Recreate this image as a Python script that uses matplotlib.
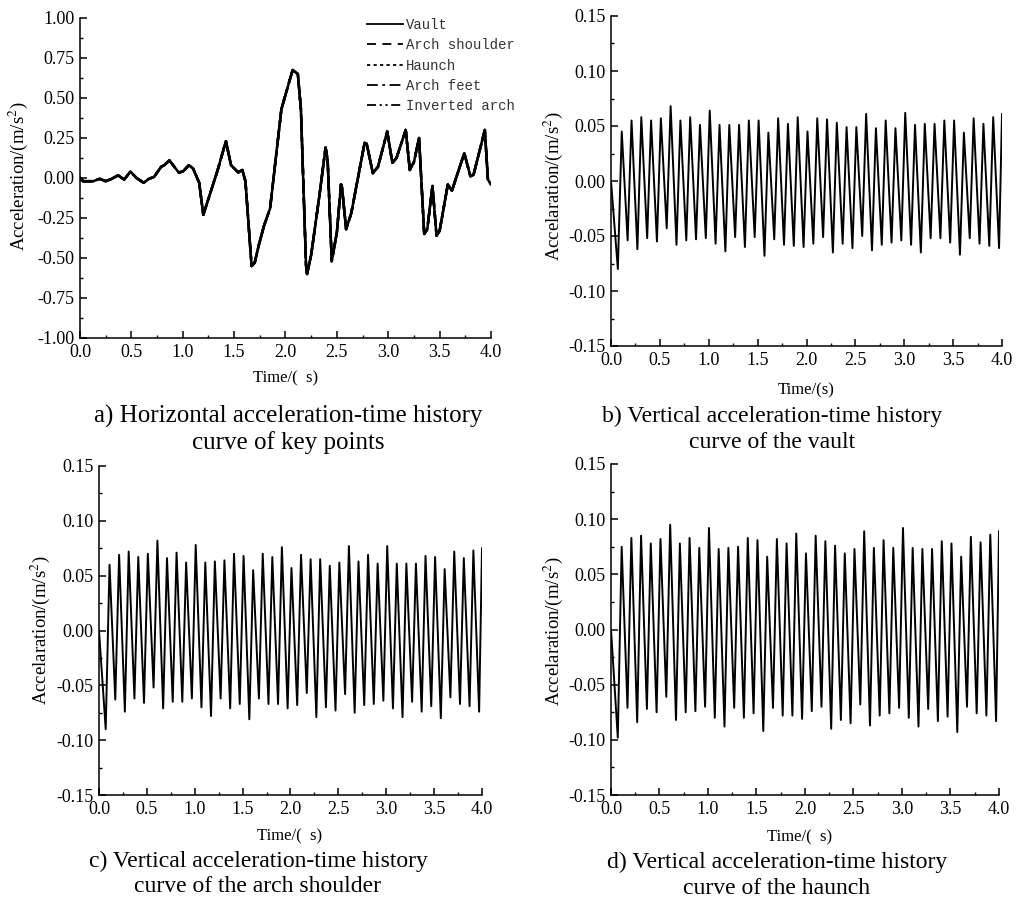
import numpy as np
import matplotlib
matplotlib.use("Agg")
import matplotlib.pyplot as plt
from matplotlib.ticker import MultipleLocator, FormatStrFormatter

plt.rcParams['font.family'] = 'serif'
plt.rcParams['font.serif'] = ['Liberation Serif', 'DejaVu Serif']
plt.rcParams['mathtext.fontset'] = 'stix'
plt.rcParams['axes.unicode_minus'] = False

# horizontal acceleration at the key points (all five curves coincide)
horiz_t = [0.00, 0.03, 0.13, 0.19, 0.25, 0.31, 0.37, 0.43, 0.49, 0.55, 0.62, 0.67,
           0.72, 0.79, 0.82, 0.87, 0.96, 1.00, 1.06, 1.10, 1.16, 1.20, 1.26, 1.34,
           1.42, 1.47, 1.54, 1.58, 1.61, 1.67, 1.70, 1.74, 1.79, 1.85, 1.96, 2.04,
           2.07, 2.12, 2.15, 2.20, 2.21, 2.25, 2.33, 2.39, 2.41, 2.45, 2.50, 2.54,
           2.55, 2.59, 2.64, 2.77, 2.79, 2.85, 2.90, 2.99, 3.04, 3.08, 3.17, 3.21,
           3.25, 3.30, 3.35, 3.38, 3.43, 3.47, 3.50, 3.58, 3.62, 3.66, 3.74, 3.80,
           3.83, 3.94, 3.97, 4.00]
horiz_acc = [0.00, -0.02, -0.02, -0.005, -0.02, -0.005, 0.017, -0.01, 0.04, 0.00, -0.03, -0.005,
             0.006, 0.07, 0.08, 0.11, 0.035, 0.04, 0.08, 0.06, -0.03, -0.23, -0.11, 0.05,
             0.23, 0.08, 0.035, 0.05, -0.02, -0.55, -0.53, -0.42, -0.30, -0.19, 0.43, 0.61,
             0.675, 0.65, 0.43, -0.55, -0.60, -0.48, -0.11, 0.19, 0.115, -0.52, -0.34, -0.04,
             -0.06, -0.32, -0.22, 0.22, 0.215, 0.03, 0.07, 0.29, 0.095, 0.125, 0.30, 0.05,
             0.10, 0.25, -0.35, -0.32, -0.05, -0.36, -0.33, -0.04, -0.08, 0.00, 0.155, 0.01,
             0.02, 0.30, -0.01, -0.04]
key_points = ['Vault', 'Arch shoulder', 'Haunch', 'Arch feet', 'Inverted arch']
key_styles = ['-', (0, (5, 3.5)), (0, (1.8, 1.8)), (0, (6, 2.5, 1.5, 2.5)),
              (0, (5, 2, 1.2, 2, 1.2, 2))]

# vertical acceleration: start, trough/peak pairs, last trough, end
t_vert = [0.00,
          0.07, 0.11, 0.17, 0.21, 0.27, 0.31, 0.37, 0.41, 0.47, 0.51,
          0.57, 0.61, 0.67, 0.71, 0.77, 0.81, 0.87, 0.91, 0.97, 1.01,
          1.07, 1.11, 1.17, 1.21, 1.27, 1.31, 1.37, 1.41, 1.47, 1.51,
          1.57, 1.61, 1.67, 1.71, 1.77, 1.81, 1.87, 1.91, 1.97, 2.01,
          2.07, 2.11, 2.17, 2.21, 2.27, 2.31, 2.37, 2.41, 2.47, 2.51,
          2.57, 2.61, 2.67, 2.71, 2.77, 2.81, 2.87, 2.91, 2.97, 3.01,
          3.07, 3.11, 3.17, 3.21, 3.27, 3.31, 3.37, 3.41, 3.47, 3.51,
          3.57, 3.61, 3.67, 3.71, 3.77, 3.81, 3.87, 3.91,
          3.97, 4.00]

vault_acc = [0.000,
             -0.080, 0.045, -0.054, 0.055, -0.062, 0.058, -0.052, 0.055, -0.055, 0.057,
             -0.043, 0.068, -0.058, 0.055, -0.054, 0.058, -0.053, 0.051, -0.052, 0.064,
             -0.057, 0.051, -0.064, 0.051, -0.051, 0.051, -0.060, 0.055, -0.051, 0.055,
             -0.068, 0.044, -0.053, 0.057, -0.058, 0.052, -0.059, 0.058, -0.060, 0.045,
             -0.057, 0.057, -0.051, 0.056, -0.065, 0.053, -0.057, 0.049, -0.061, 0.049,
             -0.050, 0.061, -0.063, 0.048, -0.058, 0.055, -0.056, 0.048, -0.054, 0.062,
             -0.058, 0.051, -0.065, 0.052, -0.052, 0.052, -0.052, 0.055, -0.056, 0.055,
             -0.067, 0.044, -0.052, 0.057, -0.057, 0.052, -0.059, 0.058,
             -0.061, 0.061]

shoulder_acc = [0.000,
                -0.090, 0.060, -0.063, 0.069, -0.074, 0.072, -0.062, 0.067, -0.066, 0.070,
                -0.052, 0.082, -0.071, 0.066, -0.065, 0.071, -0.065, 0.062, -0.062, 0.078,
                -0.070, 0.062, -0.078, 0.063, -0.062, 0.064, -0.071, 0.070, -0.067, 0.068,
                -0.081, 0.055, -0.062, 0.070, -0.067, 0.067, -0.067, 0.076, -0.071, 0.057,
                -0.068, 0.069, -0.057, 0.065, -0.079, 0.065, -0.070, 0.059, -0.073, 0.062,
                -0.058, 0.077, -0.075, 0.063, -0.068, 0.069, -0.067, 0.061, -0.064, 0.077,
                -0.071, 0.061, -0.079, 0.061, -0.065, 0.061, -0.074, 0.068, -0.069, 0.067,
                -0.080, 0.056, -0.061, 0.072, -0.067, 0.066, -0.069, 0.073,
                -0.074, 0.075]

haunch_acc = [0.000,
              -0.098, 0.075, -0.071, 0.083, -0.084, 0.085, -0.072, 0.078, -0.075, 0.082,
              -0.061, 0.095, -0.082, 0.078, -0.075, 0.083, -0.074, 0.074, -0.070, 0.092,
              -0.080, 0.073, -0.088, 0.074, -0.071, 0.075, -0.080, 0.083, -0.076, 0.081,
              -0.092, 0.066, -0.071, 0.082, -0.078, 0.078, -0.078, 0.087, -0.081, 0.069,
              -0.074, 0.085, -0.070, 0.080, -0.090, 0.076, -0.082, 0.069, -0.085, 0.073,
              -0.068, 0.089, -0.087, 0.074, -0.078, 0.081, -0.076, 0.074, -0.071, 0.092,
              -0.080, 0.074, -0.088, 0.073, -0.072, 0.073, -0.083, 0.080, -0.079, 0.078,
              -0.093, 0.066, -0.070, 0.084, -0.076, 0.079, -0.078, 0.086,
              -0.083, 0.089]

W, H = 1020, 901
fig = plt.figure(figsize=(W / 100, H / 100), dpi=100)


def rect(x0, y0, x1, y1):
    # pixel box (top-left origin) -> figure fraction
    return [x0 / W, 1 - y1 / H, (x1 - x0) / W, (y1 - y0) / H]


def ftext(x, y, s, **kw):
    fig.text(x / W, 1 - y / H, s, ha='center', va='center', **kw)


def style(ax, ymax, ymajor):
    ax.set_xlim(0, 4)
    ax.set_ylim(-ymax, ymax)
    ax.xaxis.set_major_locator(MultipleLocator(0.5))
    ax.xaxis.set_minor_locator(MultipleLocator(0.25))
    ax.yaxis.set_major_locator(MultipleLocator(ymajor))
    ax.yaxis.set_minor_locator(MultipleLocator(ymajor / 2))
    ax.xaxis.set_major_formatter(FormatStrFormatter('%.1f'))
    ax.yaxis.set_major_formatter(FormatStrFormatter('%.2f'))
    for s in ['top', 'right']:
        ax.spines[s].set_visible(False)
    for s in ['left', 'bottom']:
        ax.spines[s].set_linewidth(1.1)
    ax.tick_params(which='major', direction='in', length=5, width=1.1,
                   labelsize=13, pad=4)
    ax.tick_params(which='minor', direction='in', length=2.5, width=1.0)


# a) horizontal, key points
ax_a = fig.add_axes(rect(80, 18, 491, 338))
for name, ls in zip(key_points, key_styles):
    ax_a.plot(horiz_t, horiz_acc, color='black', lw=1.8, ls=ls, label=name)
style(ax_a, 1.0, 0.25)
leg = ax_a.legend(loc='upper left', bbox_to_anchor=(367 / W, 1 - 18 / H),
                  bbox_transform=fig.transFigure, frameon=False,
                  prop={'family': 'Liberation Mono', 'size': 10},
                  handlelength=2.6, handletextpad=0.2, labelspacing=0.45,
                  borderpad=0, borderaxespad=0)
for line in leg.get_lines():
    line.set_linewidth(1.3)
for t in leg.get_texts():
    t.set_color('#333333')
ftext(18, 176, 'Acceleration/(m/s$^{2}$)', rotation=90, fontsize=13.5)
ftext(286, 378, 'Time/(  s)', fontsize=12)
ftext(288, 416, 'a) Horizontal acceleration-time history', fontsize=18)
ftext(288, 443, 'curve of key points', fontsize=18)

# b), c), d) vertical
panels = [
    (rect(611, 16, 1002, 346), vault_acc, 'Time/(s)', (806, 390),
     (553, 186), (772, 416), 'b) Vertical acceleration-time history',
     'curve of the vault'),
    (rect(99, 466, 482, 795), shoulder_acc, 'Time/(  s)', (290, 836),
     (40, 630), (258, 861), 'c) Vertical acceleration-time history',
     'curve of the arch shoulder'),
    (rect(611, 464, 999, 795), haunch_acc, 'Time/(  s)', (800, 837),
     (553, 631), (777, 862), 'd) Vertical acceleration-time history',
     'curve of the haunch'),
]
for r, acc, xl, xl_pos, yl_pos, cap_pos, cap1, cap2 in panels:
    ax = fig.add_axes(r)
    ax.plot(t_vert, acc, color='black', lw=1.4)
    style(ax, 0.15, 0.05)
    ftext(yl_pos[0], yl_pos[1], 'Accelaration/(m/s$^{2}$)', rotation=90, fontsize=13.5)
    ftext(xl_pos[0], xl_pos[1], xl, fontsize=12)
    ftext(cap_pos[0], cap_pos[1], cap1, fontsize=17)
    ftext(cap_pos[0], cap_pos[1] + 26, cap2, fontsize=17)

fig.savefig('out.png', dpi=100)
